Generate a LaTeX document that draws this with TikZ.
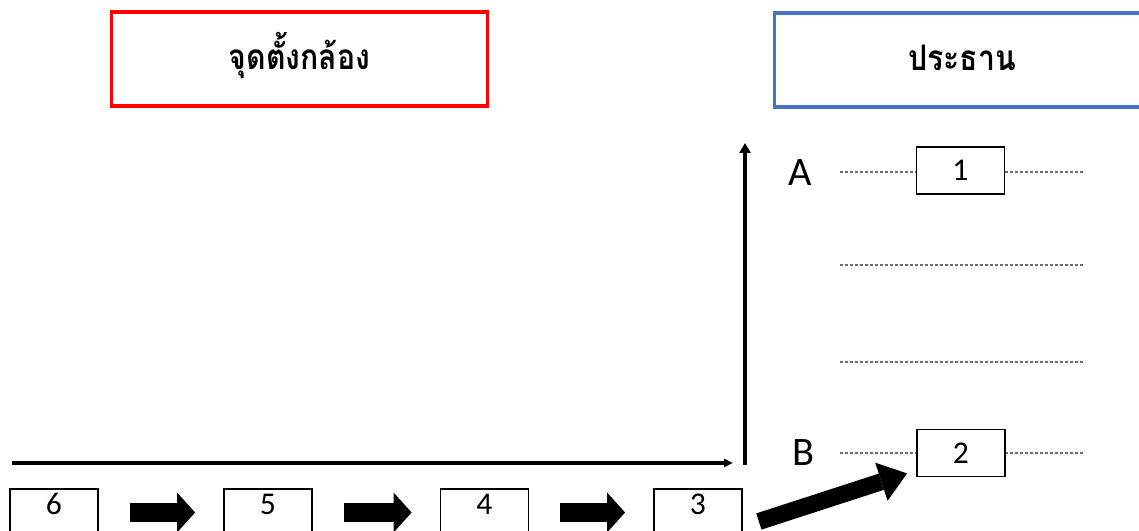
\documentclass[tikz,border=0pt]{standalone}
\usepackage{fontspec}
\setmainfont{Carlito}
\newfontfamily\thaifont[Script=Thai, FakeStretch=0.86]{Loma}
\usepackage{tikz}
\usetikzlibrary{arrows.meta}
\definecolor{camred}{RGB}{255,0,0}
\definecolor{chairblue}{RGB}{68,114,196}
\definecolor{lanegray}{RGB}{110,110,110}

\begin{document}
\begin{tikzpicture}[x=0.01cm, y=-0.01cm, every node/.style={font=\fontsize{9}{11}\selectfont},
    titlebox/.style={draw, line width=0.9pt, minimum width=3.75cm, minimum height=0.94cm, inner sep=0pt,
      text height=0.36cm, text depth=0.14cm, font=\thaifont\bfseries\fontsize{10}{12}\selectfont},
    numbox/.style={draw, fill=white, line width=0.5pt, minimum width=0.88cm, minimum height=0.47cm, inner sep=0pt},
    lowbox/.style={numbox, text height=0.2cm, text depth=0.15cm},
    rowlabel/.style={font=\fontsize{11.5}{13}\selectfont},
    lane/.style={lanegray, line width=0.4pt, dash pattern=on 0.03cm off 0.02cm},
    axis/.style={line width=1pt},
    blockarrow/.style={line width=0.19cm, -{Triangle[length=0.18cm, width=0.40cm, line width=0pt]},
      shorten <=0.31cm, shorten >=0.28cm}]
  \useasboundingbox (0,0) rectangle (1139,531);
  \clip (0,0) rectangle (1139,531);

  % headers
  \node[titlebox, draw=camred] (cam) at (299.5,59) {จุดตั้งกล้อง};
  \node[titlebox, draw=chairblue] (chair) at (962,60) {ประธาน};

  % lanes on the right
  \foreach \y in {172,265,362,453}
    \draw[lane] (840,\y) -- (1083,\y);
  \node[rowlabel] (la) at (800,173) {A};
  \node[rowlabel] (lb) at (803,453) {B};
  \node[numbox] (b1) at (960.5,170.5) {1};
  \node[numbox] (b2) at (961,453) {2};

  % axes
  \coordinate (ybot) at (745,465);
  \coordinate (ytop) at (745,143);
  \coordinate (xl) at (12,463);
  \coordinate (xr) at (733,463);
  \draw[axis, -{Triangle[length=0.1cm, width=0.11cm]}] (ybot) -- (ytop);
  \draw[axis, -{Triangle[length=0.09cm, width=0.08cm]}] (xl) -- (xr);

  % bottom row
  \foreach \n/\x in {6/54,5/268,4/484.5,3/698}
    \node[lowbox] (b\n) at (\x,512.5) {\n};
  \foreach \a/\b in {6/5,5/4,4/3}
    \draw[blockarrow] (b\a) -- (b\b);
  \draw[line width=0.17cm, -{Triangle[length=0.27cm, width=0.40cm, line width=0pt]}]
    ([shift={(16,9)}]b3.east) -- ([shift={(-9,-4)}]b2.south west);
\end{tikzpicture}
\end{document}
